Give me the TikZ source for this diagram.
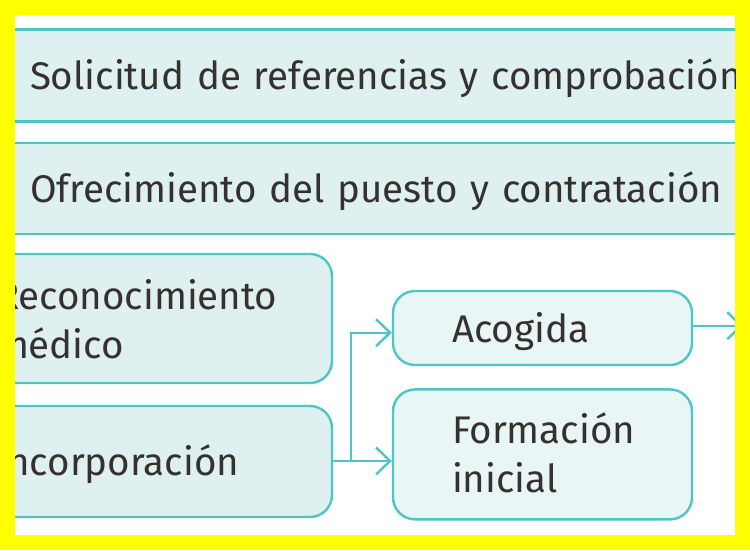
\documentclass[tikz,border=0pt]{standalone}
\usepackage{fontspec}
\setmainfont{Fira Sans}
\usetikzlibrary{positioning,arrows.meta}

\definecolor{stepline}{HTML}{4EC6C6}
\definecolor{stepfill}{HTML}{DEF0EF}
\definecolor{steplight}{HTML}{E9F6F6}
\definecolor{steptext}{HTML}{36302F}
\definecolor{framey}{HTML}{FFFF00}

\tikzset{
	steptext/.style={text=steptext, align=left, font=\fontsize{38.5pt}{49pt}\selectfont},
	band/.style={steptext, draw=stepline, fill=stepfill, line width=2.4pt, inner xsep=40pt, text width=760pt, text height=30pt, text depth=2pt},
	stepbox/.style={steptext, draw=stepline, fill=stepfill, line width=2.4pt, rounded corners=22pt, inner xsep=20pt, text width=316pt, text height=30pt},
	sidebox/.style={stepbox, fill=steplight, inner xsep=59pt, text width=181pt},
	link/.style={draw=stepline, line width=2.4pt},
	flow/.style={link, -{Straight Barb[length=14pt,width=27pt]}},
}

\begin{document}
\begin{tikzpicture}[x=1pt,y=-1pt]
	\useasboundingbox (0,0) rectangle (750,550);
	\fill[framey] (0,0) rectangle (750,550);
	\fill[white] (15,15) rectangle (735,535);

	\begin{scope}
		\clip (15,15) rectangle (735,535);

		\node[band, minimum height=92pt] (solicitud) at (410,75.6) {Solicitud de referencias y comprobación};
		\node[band, minimum height=91pt] (ofrecimiento) at (410,188.4) {Ofrecimiento del puesto y contratación};

		\node[stepbox, minimum height=129pt, text depth=49pt] (reconocimiento) at (154,318.5) {Reconocimiento\\médico};
		\node[stepbox, minimum height=111pt, text depth=3pt] (incorporacion) at (154,461.5) {Incorporación};

		\node[sidebox, minimum height=74pt, text depth=2pt] (acogida) at (542.5,328) {Acogida};
		\node[sidebox, minimum height=130pt, text depth=52pt, below=22pt of acogida] (formacion) {Formación\\inicial};

		\coordinate (split) at (351,461);
		\coordinate (onward) at (743,325.7);

		\draw[link] (incorporacion.east |- split) -- (split);
		\draw[flow] (split) |- ([yshift=-4.7pt]acogida.west);
		\draw[flow] (split) -- (formacion.west |- split);
		\draw[flow] ([yshift=2.3pt]acogida.east) -- (onward);
	\end{scope}
\end{tikzpicture}
\end{document}
